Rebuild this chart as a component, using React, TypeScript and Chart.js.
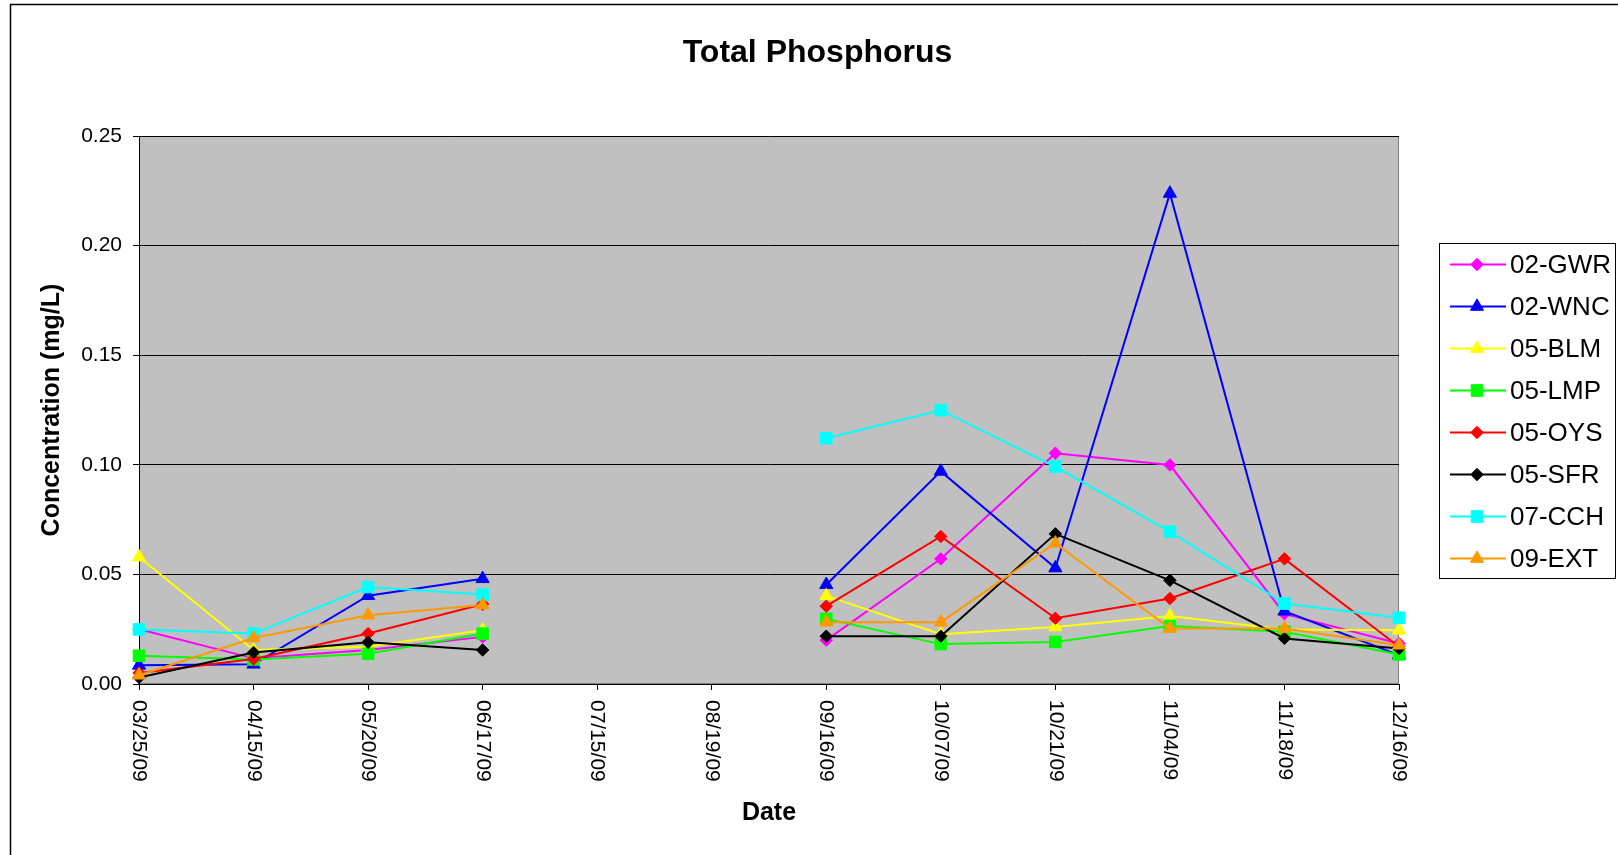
import React, { useEffect, useRef } from 'react';
import { Chart, registerables } from 'chart.js';

Chart.register(...registerables);

const dates = ['03/25/09', '04/15/09', '05/20/09', '06/17/09', '07/15/09', '08/19/09', '09/16/09', '10/07/09', '10/21/09', '11/04/09', '11/18/09', '12/16/09'];

const gwr = [0.025, 0.0117, 0.0155, 0.0215, null, null, 0.020, 0.0571, 0.1053, 0.0999, 0.032, 0.0185];
const wnc = [0.0085, 0.009, 0.0403, 0.048, null, null, 0.0453, 0.097, 0.0529, 0.2238, 0.0332, 0.0132];
const blm = [0.0579, 0.0155, 0.017, 0.0245, null, null, 0.0402, 0.0227, 0.026, 0.031, 0.0249, 0.0245];
const lmp = [0.0129, 0.0112, 0.0138, 0.023, null, null, 0.0297, 0.0182, 0.0192, 0.0265, 0.0238, 0.0135];
const oys = [0.005, 0.0114, 0.023, 0.0364, null, null, 0.0355, 0.0673, 0.030, 0.039, 0.0571, 0.017];
const sfr = [0.003, 0.0144, 0.019, 0.0155, null, null, 0.0218, 0.0218, 0.0685, 0.0473, 0.0208, 0.0162];
const cch = [0.0249, 0.023, 0.0442, 0.0408, null, null, 0.1121, 0.1249, 0.0992, 0.0695, 0.0367, 0.0302];
const ext = [0.004, 0.021, 0.0314, 0.036, null, null, 0.0282, 0.0282, 0.0642, 0.0253, 0.0253, 0.0177];

const seriesNames = ['02-GWR', '02-WNC', '05-BLM', '05-LMP', '05-OYS', '05-SFR', '07-CCH', '09-EXT'];
const seriesValues = [gwr, wnc, blm, lmp, oys, sfr, cch, ext];
const seriesColors = ['#FF00FF', '#0000FF', '#FFFF00', '#00FF00', '#FF0000', '#000000', '#00FFFF', '#FF9900'];
const seriesMarkers = ['rectRot', 'triangle', 'triangle', 'rect', 'rectRot', 'rectRot', 'rect', 'triangle'];

const titleText = 'Total Phosphorus';
const yTitle = 'Concentration (mg/L)';
const xTitle = 'Date';

const FONT = '"Liberation Sans", Arial, Helvetica, sans-serif';

const markerRadius: Record<string, number> = { rectRot: 6.2, triangle: 7.6, rect: 8.2 };

function drawMarker(ctx: CanvasRenderingContext2D, style: string, x: number, y: number, r: number, color: string) {
  ctx.save();
  ctx.fillStyle = color;
  ctx.strokeStyle = color;
  ctx.lineWidth = 1;
  ctx.beginPath();
  if (style === 'rectRot') {
    ctx.moveTo(x - r, y);
    ctx.lineTo(x, y - r);
    ctx.lineTo(x + r, y);
    ctx.lineTo(x, y + r);
    ctx.closePath();
  } else if (style === 'triangle') {
    const w = r * Math.sin(Math.PI * 2 / 3);
    ctx.moveTo(x, y - r);
    ctx.lineTo(x + w, y + r / 2);
    ctx.lineTo(x - w, y + r / 2);
    ctx.closePath();
  } else {
    const s = Math.SQRT1_2 * r;
    ctx.rect(x - s, y - s, 2 * s, 2 * s);
  }
  ctx.fill();
  ctx.stroke();
  ctx.restore();
}

const decorPlugin = {
  id: 'decor',
  beforeDraw(chart: any) {
    const { ctx, chartArea: a } = chart;
    ctx.save();
    ctx.fillStyle = '#FFFFFF';
    ctx.fillRect(0, 0, chart.width, chart.height);
    ctx.strokeStyle = '#000000';
    ctx.lineWidth = 1.5;
    ctx.strokeRect(10.5, 4.5, 3000, 3000);
    ctx.fillStyle = '#C0C0C0';
    ctx.fillRect(a.left, a.top, a.right - a.left, a.bottom - a.top);
    ctx.strokeStyle = '#808080';
    ctx.lineWidth = 1;
    ctx.strokeRect(a.left + 0.5, a.top + 0.5, a.right - a.left - 1, a.bottom - a.top - 1);
    ctx.fillStyle = '#000000';
    ctx.font = `bold 32px ${FONT}`;
    ctx.textAlign = 'center';
    ctx.textBaseline = 'alphabetic';
    ctx.fillText(titleText, 817.5, 62);
    ctx.restore();
  },
  afterDraw(chart: any) {
    const { ctx } = chart;
    const xs = chart.scales.x;
    ctx.save();
    ctx.fillStyle = '#000000';
    ctx.font = `21px ${FONT}`;
    dates.forEach((d, i) => {
      const x = xs.getPixelForValue(i);
      ctx.save();
      ctx.translate(x, xs.top + 16);
      ctx.rotate(Math.PI / 2);
      ctx.textAlign = 'left';
      ctx.textBaseline = 'middle';
      ctx.fillText(d, 0, 0);
      ctx.restore();
    });
    // legend
    const lx = 1439.5, ly = 243.5, lw = 176, lh = 335;
    ctx.fillStyle = '#FFFFFF';
    ctx.fillRect(lx, ly, lw, lh);
    ctx.strokeStyle = '#000000';
    ctx.lineWidth = 1;
    ctx.strokeRect(lx, ly, lw, lh);
    ctx.font = `26px ${FONT}`;
    ctx.textAlign = 'left';
    ctx.textBaseline = 'middle';
    seriesNames.forEach((name, i) => {
      const y = 264.5 + i * 42;
      ctx.strokeStyle = seriesColors[i];
      ctx.lineWidth = 2;
      ctx.beginPath();
      ctx.moveTo(1450, y);
      ctx.lineTo(1506, y);
      ctx.stroke();
      drawMarker(ctx, seriesMarkers[i], 1477, y, markerRadius[seriesMarkers[i]], seriesColors[i]);
      ctx.fillStyle = '#000000';
      ctx.fillText(name, 1510, y + 1);
    });
    ctx.restore();
  },
};

export default function App() {
  const ref = useRef<HTMLCanvasElement | null>(null);
  useEffect(() => {
    if (!ref.current) return;
    const n = seriesNames.length;
    const chart = new Chart(ref.current, {
      type: 'line',
      data: {
        labels: dates,
        datasets: seriesNames.map((name, i) => ({
          label: name,
          data: seriesValues[i],
          borderColor: seriesColors[i],
          backgroundColor: seriesColors[i],
          pointBackgroundColor: seriesColors[i],
          pointBorderColor: seriesColors[i],
          pointStyle: seriesMarkers[i] as any,
          pointRadius: markerRadius[seriesMarkers[i]],
          pointBorderWidth: 1,
          borderWidth: 2,
          tension: 0,
          spanGaps: false,
          clip: false as any,
          order: n - 1 - i,
          fill: false,
        })),
      },
      plugins: [decorPlugin],
      options: {
        animation: false,
        responsive: false,
        devicePixelRatio: 1,
        events: [],
        layout: { padding: { top: 136, right: 219, left: 0, bottom: 0 } },
        plugins: {
          legend: { display: false },
          title: { display: false },
          tooltip: { enabled: false },
        },
        scales: {
          x: {
            type: 'category',
            offset: false,
            afterFit: (s: any) => { s.height = 171; },
            ticks: { display: false },
            grid: { display: true, drawOnChartArea: false, drawTicks: true, tickLength: 6, color: '#000000', lineWidth: 1 },
            border: { display: true, color: '#000000', width: 1 },
            title: {
              display: true,
              text: xTitle,
              color: '#000000',
              font: { family: FONT, size: 25, weight: 'bold' },
              padding: { top: 0, bottom: 27 },
            },
          },
          y: {
            min: 0,
            max: 0.25,
            afterFit: (s: any) => { s.width = 139; },
            ticks: {
              stepSize: 0.05,
              color: '#000000',
              padding: 11,
              font: { family: FONT, size: 21 },
              callback: (v: any) => Number(v).toFixed(2),
            },
            grid: { color: '#000000', lineWidth: 1, tickLength: 6, drawTicks: true },
            border: { display: true, color: '#000000', width: 1 },
            title: {
              display: true,
              text: yTitle,
              color: '#000000',
              font: { family: FONT, size: 25, weight: 'bold' },
              padding: { top: 37.6, bottom: 0 },
            },
          },
        },
      } as any,
    });
    return () => chart.destroy();
  }, []);
  return (
    <div style={{ position: 'absolute', left: 0, top: 0, width: 1618, height: 855 }}>
      <canvas ref={ref} width={1618} height={855} style={{ width: 1618, height: 855, display: 'block' }} />
    </div>
  );
}
